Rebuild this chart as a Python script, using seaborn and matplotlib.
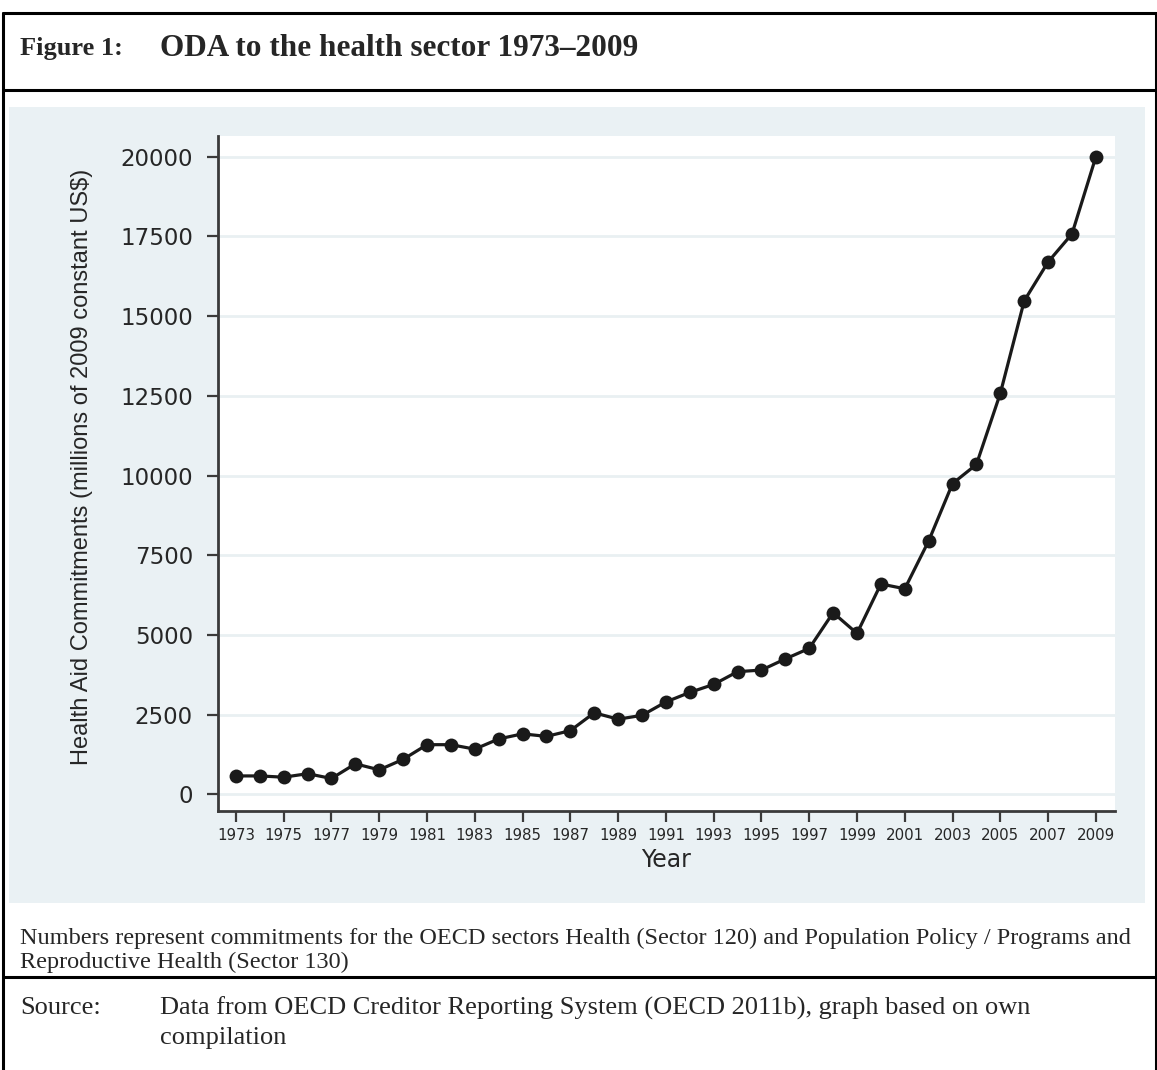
import matplotlib
matplotlib.use('Agg')
import matplotlib.pyplot as plt
import seaborn as sns
import pandas as pd
from matplotlib.patches import Rectangle
from matplotlib.lines import Line2D

# Data
years = list(range(1973, 2010))
commitments = [580, 580, 540, 650, 500, 960, 770, 1100, 1560, 1560,
               1420, 1740, 1900, 1820, 2000, 2560, 2360, 2480, 2900, 3200,
               3450, 3850, 3900, 4250, 4580, 5700, 5050, 6600, 6450, 7950,
               9750, 10350, 12580, 15480, 16700, 17580, 20000]
ytick_vals = [0, 2500, 5000, 7500, 10000, 12500, 15000, 17500, 20000]
xtick_vals = list(range(1973, 2010, 2))

df = pd.DataFrame({'year': years, 'value': commitments})

sns.set_style('white')
plt.rcParams['font.family'] = ['DejaVu Sans']

W, H = 1157, 1070
fig = plt.figure(figsize=(W / 100, H / 100), dpi=100)

def fx(px):
    return px / W

def fy(py):
    return 1 - py / H

# grey graph region
fig.patches.append(Rectangle((fx(9), fy(903)), fx(1145) - fx(9), fy(107) - fy(903),
                             transform=fig.transFigure, facecolor='#eaf1f4',
                             edgecolor='none', zorder=-5))

# frame lines
frame = dict(color='black', linewidth=2.2, transform=fig.transFigure)
fig.lines.append(Line2D([fx(3), fx(3)], [fy(13), fy(1070)], **frame))
fig.lines.append(Line2D([fx(1156), fx(1156)], [fy(13), fy(1070)], **frame))
fig.lines.append(Line2D([fx(3), fx(1156)], [fy(13), fy(13)], **frame))
fig.lines.append(Line2D([fx(3), fx(1156)], [fy(90), fy(90)], **frame))
fig.lines.append(Line2D([fx(3), fx(1156)], [fy(977), fy(977)], **frame))

# plot area
ax = fig.add_axes([fx(218), fy(811), fx(1115) - fx(218), fy(136) - fy(811)])
ax.set_zorder(2)
ax.set_facecolor('white')

sns.lineplot(data=df, x='year', y='value', ax=ax, color='#1a1a1a',
             linewidth=2.3, marker='o', markersize=10, markeredgewidth=0)

ax.set_xlim(1972.25, 2009.8)
ax.set_ylim(-520, 20650)
ax.set_xticks(xtick_vals)
ax.set_yticks(ytick_vals)
ax.grid(axis='y', color='#e9f0f2', linewidth=2)
ax.set_axisbelow(True)
for s in ['top', 'right']:
    ax.spines[s].set_visible(False)
for s in ['left', 'bottom']:
    ax.spines[s].set_color('#3a3a3a')
    ax.spines[s].set_linewidth(2)
ax.tick_params(axis='both', which='both', direction='out', length=8, width=1.6,
               color='#3a3a3a', left=True, bottom=True)
ax.tick_params(axis='y', labelsize=16.5, pad=10)
ax.tick_params(axis='x', labelsize=10.8, pad=4)
ax.set_xlabel('Year', fontsize=17, labelpad=4)
ax.set_ylabel('Health Aid Commitments (millions of 2009 constant US$)',
              fontsize=17, family='Liberation Sans')
ax.yaxis.set_label_coords(-0.139, 0.51)

# caption text
serif = 'Liberation Serif'
fig.text(fx(20), fy(49), 'Figure 1:', fontsize=19, fontweight='bold',
         family=serif, va='center', ha='left')
fig.text(fx(160), fy(49), 'ODA to the health sector 1973\u20132009', fontsize=22.5,
         fontweight='bold', family=serif, va='center', ha='left')
fig.text(fx(20), fy(938), 'Numbers represent commitments for the OECD sectors Health '
         '(Sector 120) and Population Policy / Programs and', fontsize=17.5,
         family=serif, va='center', ha='left')
fig.text(fx(20), fy(962), 'Reproductive Health (Sector 130)', fontsize=17.5,
         family=serif, va='center', ha='left')
fig.text(fx(20), fy(1008), 'Source:', fontsize=19, family=serif,
         va='center', ha='left')
fig.text(fx(160), fy(1008), 'Data from OECD Creditor Reporting System (OECD 2011b), '
         'graph based on own', fontsize=19, family=serif, va='center', ha='left')
fig.text(fx(160), fy(1038), 'compilation', fontsize=19, family=serif,
         va='center', ha='left')

fig.savefig('out.png', dpi=100)
